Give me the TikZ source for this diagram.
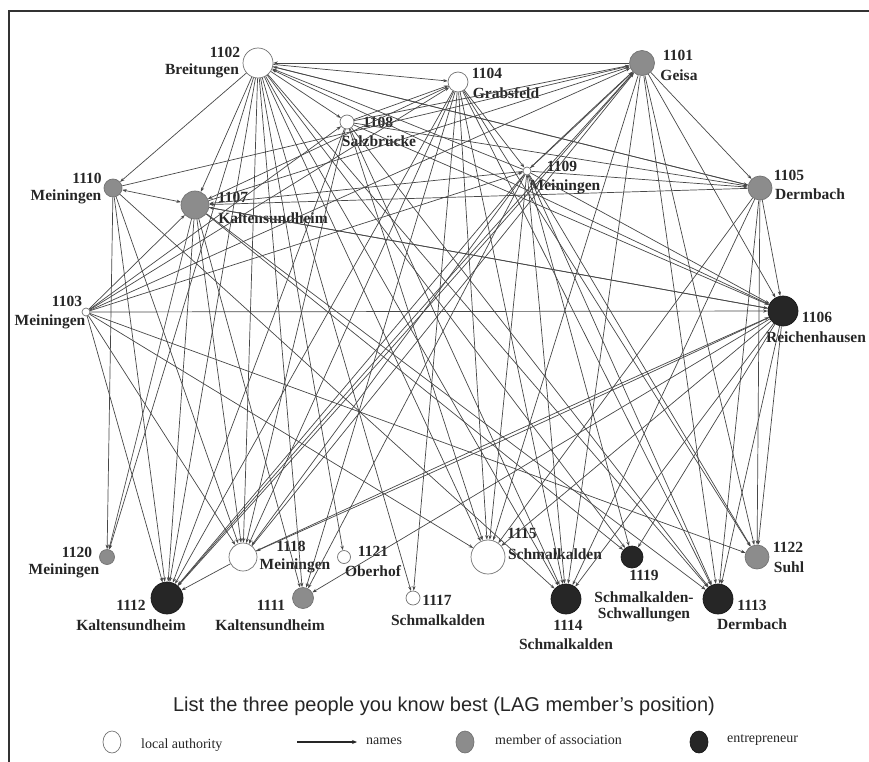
\documentclass[tikz,border=0pt]{standalone}
\usepackage{fontspec}
\setmainfont{Liberation Serif}
\newfontfamily\titlefont{Liberation Sans}
\usetikzlibrary{arrows.meta,shapes.geometric}
\begin{document}
\begin{tikzpicture}[x=1pt,y=-1pt,
  wn/.style={circle,draw=black!55,fill=white,line width=0.7pt,inner sep=0pt},
  gn/.style={circle,draw=black!55,fill=black!45,line width=0.7pt,inner sep=0pt},
  bn/.style={circle,draw=black!90,fill=black!85,line width=0.7pt,inner sep=0pt},
  lab/.style={font=\bfseries\fontsize{15.5}{18}\selectfont,inner sep=0pt,text=black!85},
  edge/.style={draw=black!72,line width=0.7pt,-{Stealth[length=4.5pt,width=3.2pt]}},
  dedge/.style={draw=black!72,line width=0.7pt,-{Stealth[length=4.5pt,width=3.2pt]}},
  frame/.style={draw=black!80,line width=1.2pt},
  legtxt/.style={font=\fontsize{14}{16}\selectfont,inner sep=0pt,text=black!85}]
\useasboundingbox (0,0) rectangle (869,762);
\draw[frame] (9,762) -- (9,11) -- (869,11);
% nodes: id / x / y / diameter / style
\foreach \id/\x/\y/\d/\s in {
 1101/642/63/25/gn, 1102/258/63/30/wn, 1103/86/312/8/wn, 1104/458/82/20/wn,
 1105/760/188/24/gn, 1106/783/311/30/bn, 1107/195/205/28/gn, 1108/347/122/14/wn,
 1109/527/171/8/wn, 1110/113/188/18/gn, 1111/303/598/21/gn, 1112/167/598/32/bn,
 1113/718/599/30/bn, 1114/566/599/30/bn, 1115/488/557/34/wn, 1117/413/598/14/wn,
 1118/243/557/28/wn, 1119/632/557/22/bn, 1120/107/557/15/gn, 1121/344/557/13/wn,
 1122/757/557/24/gn}
 \node[\s,minimum size=\d pt] (n\id) at (\x,\y) {};
% labels
\foreach \nm/\x/\y/\t in {
 l1102a/225/52/1102, l1102b/202/71/Breitungen,
 l1101a/678/55/1101, l1101b/679/75/Geisa,
 l1104a/487/73/1104, l1104b/506/93/Grabsfeld,
 l1108a/378/122/1108, l1108b/379/141/Salzbrücke,
 l1109a/562/166/1109, l1109b/565/187/Meiningen,
 l1110a/87/178/1110, l1110b/66/197/Meiningen,
 l1107a/233/197/1107, l1107b/273/218/Kaltensundheim,
 l1105a/789/175/1105, l1105b/810/194/Dermbach,
 l1103a/67/301/1103, l1103b/50/322/Meiningen,
 l1106a/817/317/1106, l1106b/816/337/Reichenhausen,
 l1120a/77/552/1120, l1120b/64/571/Meiningen,
 l1112a/131/605/1112, l1112b/131/625/Kaltensundheim,
 l1118a/291/546/1118, l1118b/295/566/Meiningen,
 l1111a/271/605/1111, l1111b/270/625/Kaltensundheim,
 l1121a/373/551/1121, l1121b/373/571/Oberhof,
 l1117a/437/600/1117, l1117b/438/620/Schmalkalden,
 l1115a/522/533/1115, l1115b/555/554/Schmalkalden,
 l1114a/568/625/1114, l1114b/566/644/Schmalkalden,
 l1119a/644/575/1119, l1119b/644/597/Schmalkalden-, l1119c/644/615/Schwallungen,
 l1113a/752/605/1113, l1113b/752/624/Dermbach,
 l1122a/788/547/1122, l1122b/789/567/Suhl}
 \node[lab] (\nm) at (\x,\y) {\t};
% directed edges
\foreach \a/\b in {
 1101/1102,1101/1105,1101/1106,1101/1122,1101/1113,1101/1114,1101/1115,
 1110/1101,1107/1101,1108/1101,1103/1101,1118/1101,
 1102/1110,1102/1107,1102/1120,1102/1112,1102/1118,1102/1111,1102/1121,1102/1117,
 1102/1115,1102/1114,1102/1119,1102/1113,1102/1104,1102/1108,1102/1105,
 1109/1102,1106/1102,
 1103/1106,1103/1107,1103/1108,1103/1104,1103/1109,1103/1112,1103/1118,1103/1122,1103/1115,
 1104/1109,1104/1117,1104/1115,1104/1114,1104/1111,1104/1118,1104/1113,1104/1122,1104/1112,1104/1107,
 1108/1104,1108/1105,1108/1106,1108/1112,1108/1118,1108/1115,1108/1113,1108/1114,
 1109/1105,1109/1107,1109/1106,1109/1112,1109/1118,1109/1111,1109/1115,1109/1114,1109/1119,1109/1113,1109/1122,
 1110/1120,1110/1112,1110/1118,1110/1114,
 1107/1120,1107/1112,1107/1118,1107/1111,1107/1119,1107/1113,1107/1106,
 1105/1107,1105/1102,1105/1106,1105/1113,1105/1122,1105/1114,1105/1115,
 1106/1107,1106/1111,1106/1113,1106/1122,1106/1114,1106/1119,1106/1115,
 1118/1112}
 \draw[edge] (n\a) -- (n\b);
\draw[edge,{Stealth[length=4.5pt,width=3.2pt]}-{Stealth[length=4.5pt,width=3.2pt]}] (n1110) -- (n1107);
% mutual (double) edges
\foreach \a/\b in {1101/1112,1101/1109,1106/1118}{
 \draw[dedge] (n\a) to[bend left=0.5] (n\b);
 \draw[dedge] (n\b) to[bend left=0.5] (n\a);}
% caption and legend
\node[font=\titlefont\fontsize{20}{24}\selectfont,text=black!85,inner sep=0pt] (cap) at (444,706) {List the three people you know best (LAG member’s position)};
\node[wn,ellipse,minimum width=18pt,minimum height=22pt] (lg1) at (112,742) {};
\node[legtxt,anchor=west] (lt1) at (141,745) {local authority};
\coordinate (la1) at (297,742);
\coordinate (la2) at (357,742);
\draw[draw=black!85,line width=1.1pt,-{Stealth[length=5pt,width=4pt]}] (la1) -- (la2);
\node[legtxt,anchor=west] (lt2) at (366,741) {names};
\node[gn,ellipse,minimum width=18pt,minimum height=22pt] (lg2) at (465,742) {};
\node[legtxt,anchor=west] (lt3) at (495,740) {member of association};
\node[bn,ellipse,minimum width=18pt,minimum height=22pt] (lg3) at (699,742) {};
\node[legtxt,anchor=west] (lt4) at (727,740) {entrepreneur};
\end{tikzpicture}
\end{document}
